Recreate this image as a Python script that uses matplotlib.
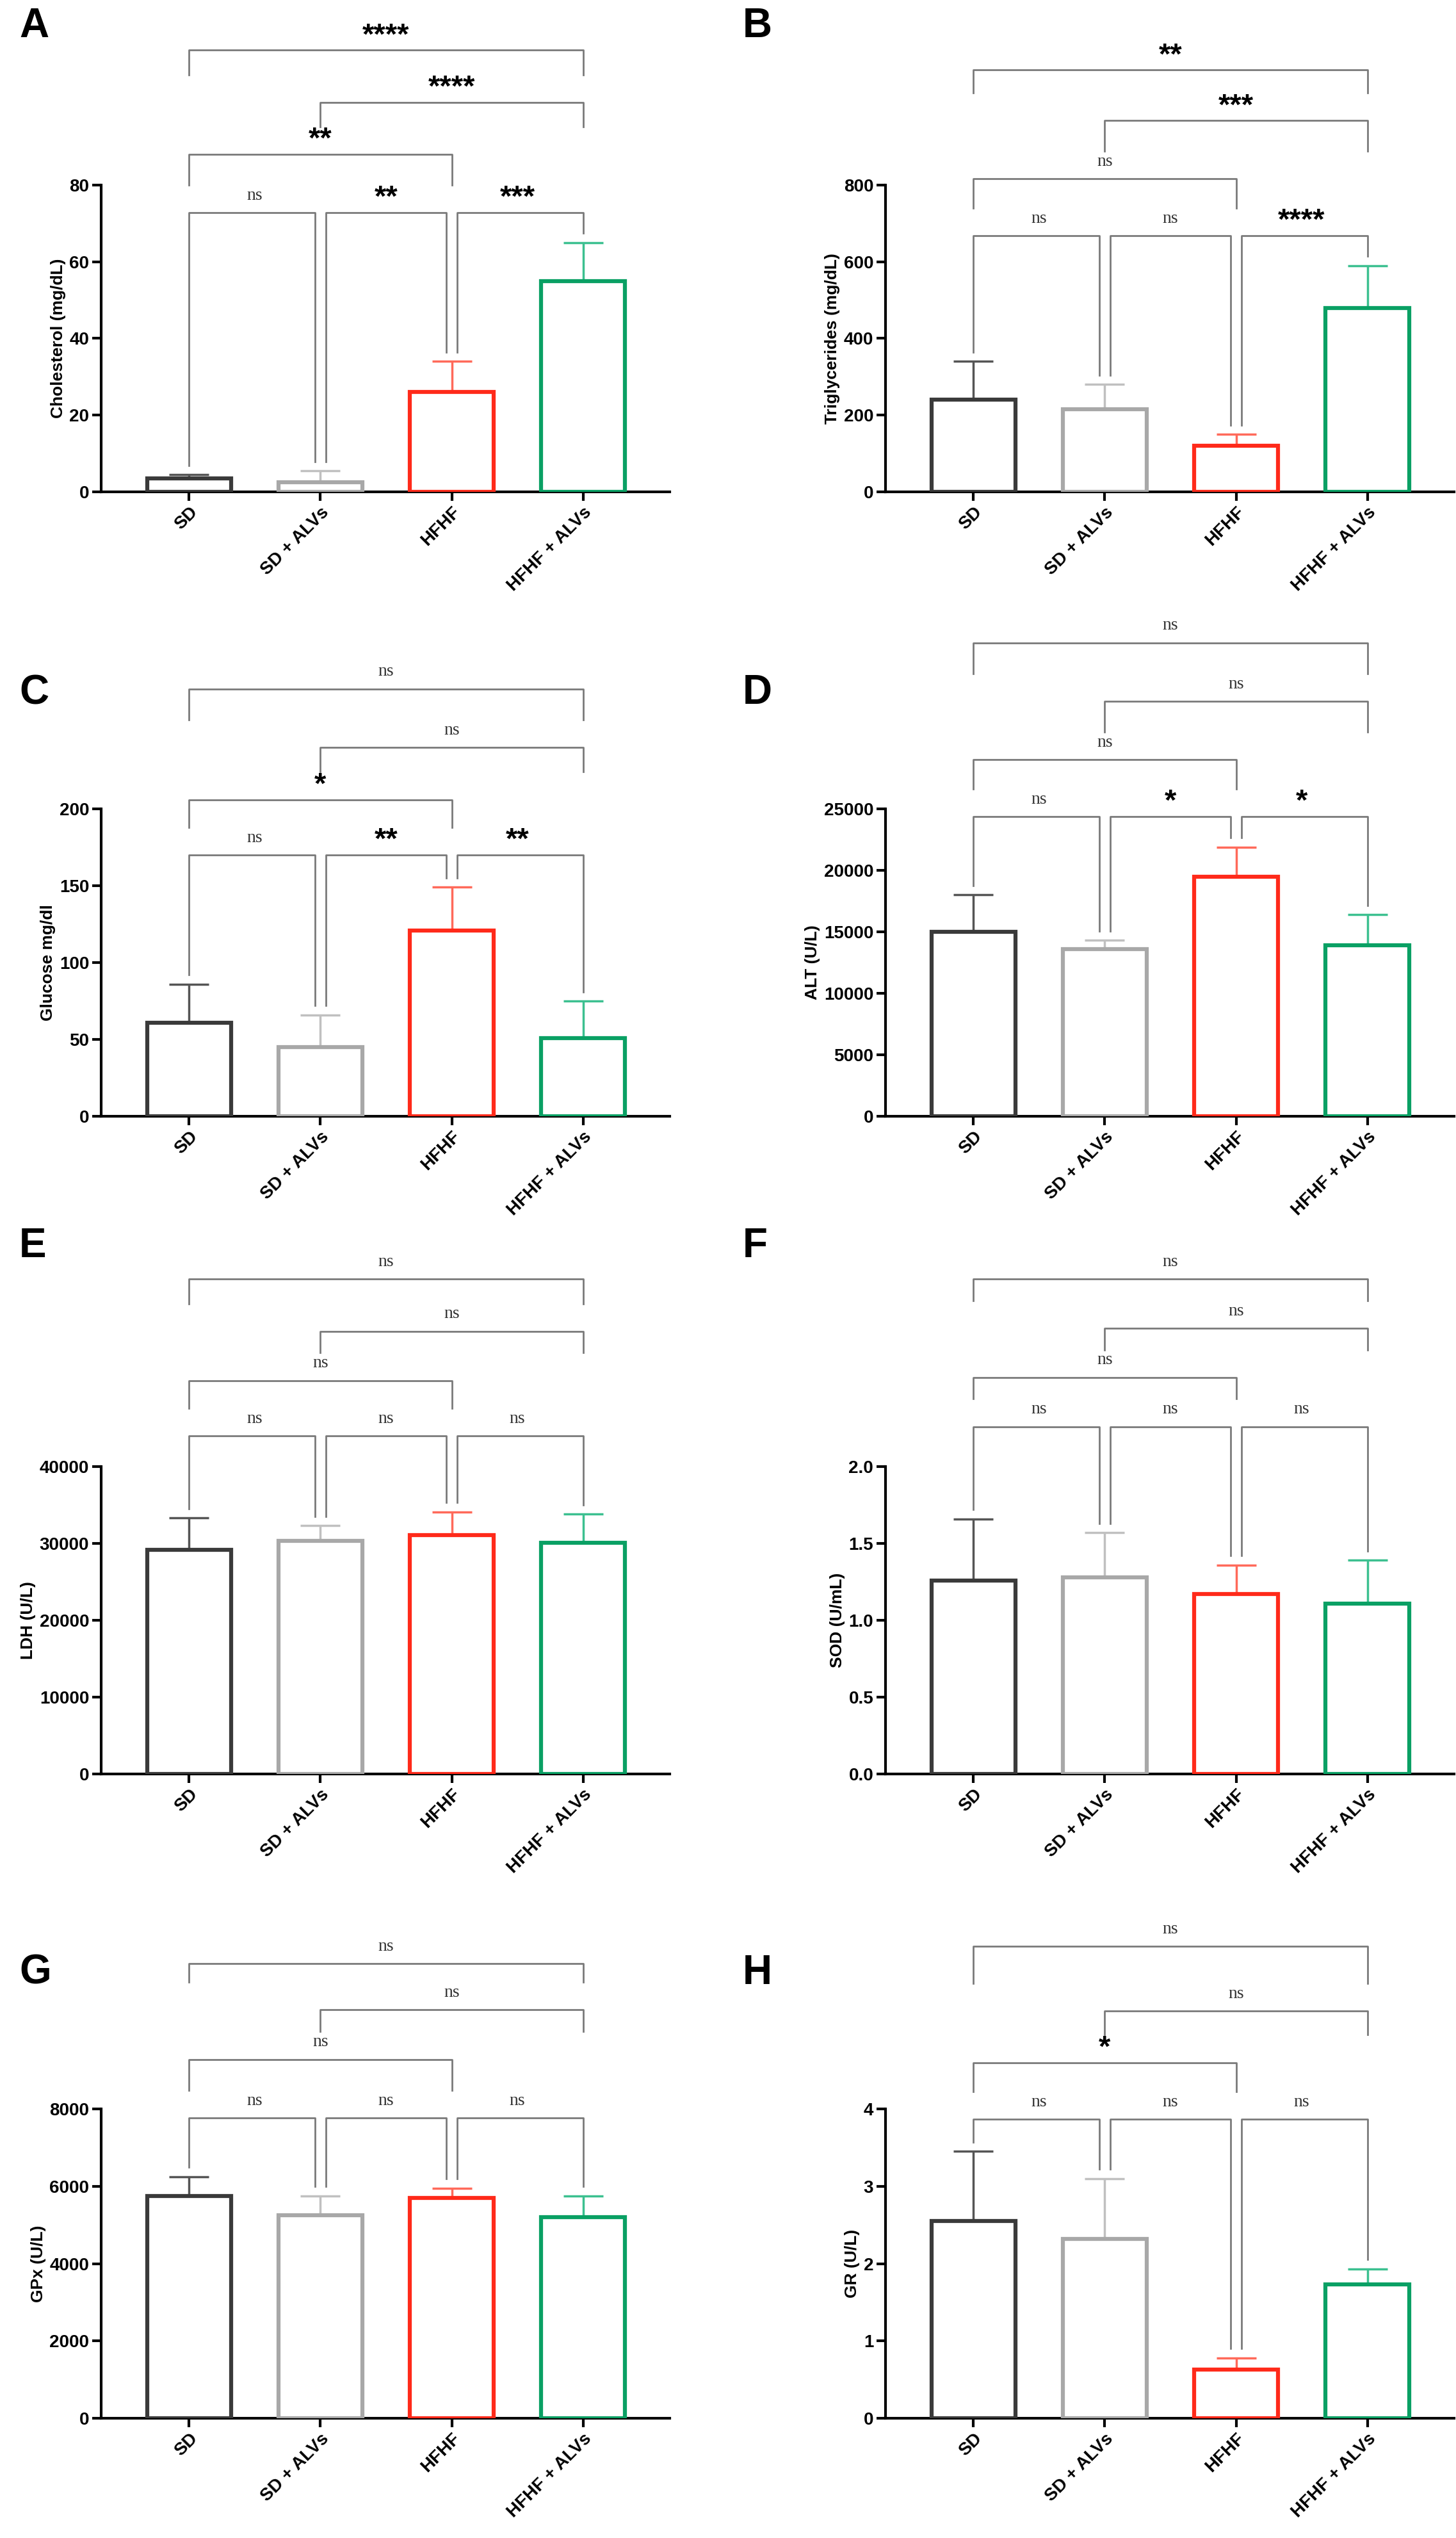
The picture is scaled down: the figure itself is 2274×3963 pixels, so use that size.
import matplotlib.pyplot as plt
import numpy as np

groups = ['SD', 'SD + ALVs', 'HFHF', 'HFHF + ALVs']
edge_colors = ['#3a3a3a', '#a8a8a8', '#ff2a1a', '#0aa064']
err_colors = ['#555555', '#c0c0c0', '#ff6a5a', '#3cc090']

letters = ['A', 'B', 'C', 'D', 'E', 'F', 'G', 'H']
ylabels = ['Cholesterol (mg/dL)', 'Triglycerides (mg/dL)', 'Glucose mg/dl', 'ALT (U/L)',
           'LDH (U/L)', 'SOD (U/mL)', 'GPx (U/L)', 'GR (U/L)']
means = [
    [3.5, 2.5, 26, 55],
    [240, 215, 120, 480],
    [61, 45, 121, 51],
    [15000, 13600, 19500, 13900],
    [29200, 30300, 31100, 30100],
    [1.26, 1.28, 1.17, 1.11],
    [5750, 5250, 5700, 5200],
    [2.55, 2.32, 0.63, 1.73],
]
errs = [
    [1, 3, 8, 10],
    [100, 65, 30, 110],
    [25, 21, 28, 24],
    [3000, 700, 2400, 2500],
    [4100, 2000, 3000, 3700],
    [0.40, 0.29, 0.19, 0.28],
    [500, 500, 250, 550],
    [0.90, 0.78, 0.15, 0.20],
]
ymax = [80, 800, 200, 25000, 40000, 2.0, 8000, 4]
ystep = [20, 200, 50, 5000, 10000, 0.5, 2000, 1]

# bracket pairs and labels per panel
pairs = [(0, 1), (1, 2), (2, 3), (0, 2), (1, 3), (0, 3)]
sig = [
    ['ns', '**', '***', '**', '****', '****'],
    ['ns', 'ns', '****', 'ns', '***', '**'],
    ['ns', '**', '**', '*', 'ns', 'ns'],
    ['ns', '*', '*', 'ns', 'ns', 'ns'],
    ['ns'] * 6,
    ['ns'] * 6,
    ['ns'] * 6,
    ['ns', 'ns', 'ns', '*', 'ns', 'ns'],
]
# bracket heights (axes fraction): level0, level1, level2, level3
levels = [
    [0.91, 1.10, 1.27, 1.44],
    [0.835, 1.02, 1.21, 1.375],
    [0.85, 1.03, 1.20, 1.39],
    [0.975, 1.16, 1.35, 1.54],
    [1.10, 1.28, 1.44, 1.61],
    [1.13, 1.29, 1.45, 1.61],
    [0.97, 1.16, 1.32, 1.47],
    [0.966, 1.15, 1.316, 1.525],
]

plt.rcParams['font.family'] = ['Liberation Sans', 'DejaVu Sans']
W, H = 2274.0, 3963.0
fig = plt.figure(figsize=(W / 100, H / 100), dpi=100)
rows = [(289, 768), (1263, 1743), (2290, 2770), (3293, 3776)]
letter_y = [41, 1082, 1946, 3081]
lefts = [158, 1383]
letter_x = [30, 1160]
width = 888

for k in range(8):
    r, c = divmod(k, 2)
    top, bot = rows[r]
    ax = fig.add_axes([lefts[c] / W, 1 - bot / H, width / W, (bot - top) / H])
    x = np.arange(4)
    ax.bar(x, means[k], width=0.64, facecolor='white', edgecolor=edge_colors, linewidth=4.5, zorder=3)
    for i in range(4):
        ax.errorbar(x[i], means[k][i], yerr=[[0], [errs[k][i]]], color=err_colors[i],
                    capsize=22, elinewidth=2.5, capthick=2.5, zorder=2)
    ax.set_xlim(-0.67, 3.66)
    ax.set_ylim(0, ymax[k])
    ax.set_yticks(np.arange(0, ymax[k] + ystep[k] / 2, ystep[k]))
    if k == 5:
        ax.set_yticklabels(['%.1f' % v for v in ax.get_yticks()])
    ax.set_xticks(x)
    ax.set_xticklabels(groups, rotation=45, ha='right', rotation_mode='anchor')
    for s in ['top', 'right']:
        ax.spines[s].set_visible(False)
    for s in ['left', 'bottom']:
        ax.spines[s].set_linewidth(3)
    ax.tick_params(width=3, length=10, labelsize=20)
    for t in ax.get_xticklabels() + ax.get_yticklabels():
        t.set_fontweight('bold')
    ax.set_ylabel(ylabels[k], fontsize=19, fontweight='bold')
    fig.text(letter_x[c] / W, 1 - letter_y[r] / H, letters[k], fontsize=46,
             fontweight='bold', va='center', ha='left')

    # significance brackets
    tr = ax.get_xaxis_transform()
    lv = levels[k]
    for n, ((i, j), lab) in enumerate(zip(pairs, sig[k])):
        level = 0 if n < 3 else n - 2
        h = lv[level]
        xi, xj = i, j
        if level == 0:
            xi = i + (0.04 if i > 0 else 0)
            xj = j - (0.04 if j < 3 else 0)
            bi = (means[k][i] + errs[k][i]) / ymax[k] + 0.03
            bj = (means[k][j] + errs[k][j]) / ymax[k] + 0.03
        else:
            bi = bj = lv[level - 1] + 0.09
        ax.plot([xi, xi, xj, xj], [bi, h, h, bj], color='#7a7a7a', lw=2, transform=tr, clip_on=False)
        if lab == 'ns':
            ax.text((i + j) / 2, h + 0.03, lab, transform=tr, ha='center', va='bottom',
                    fontsize=20, family='Liberation Serif', color='#333333')
        else:
            ax.text((i + j) / 2, h + 0.0, lab, transform=tr, ha='center', va='bottom',
                    fontsize=34, fontweight='bold')

fig.savefig('out.png', dpi=100)
